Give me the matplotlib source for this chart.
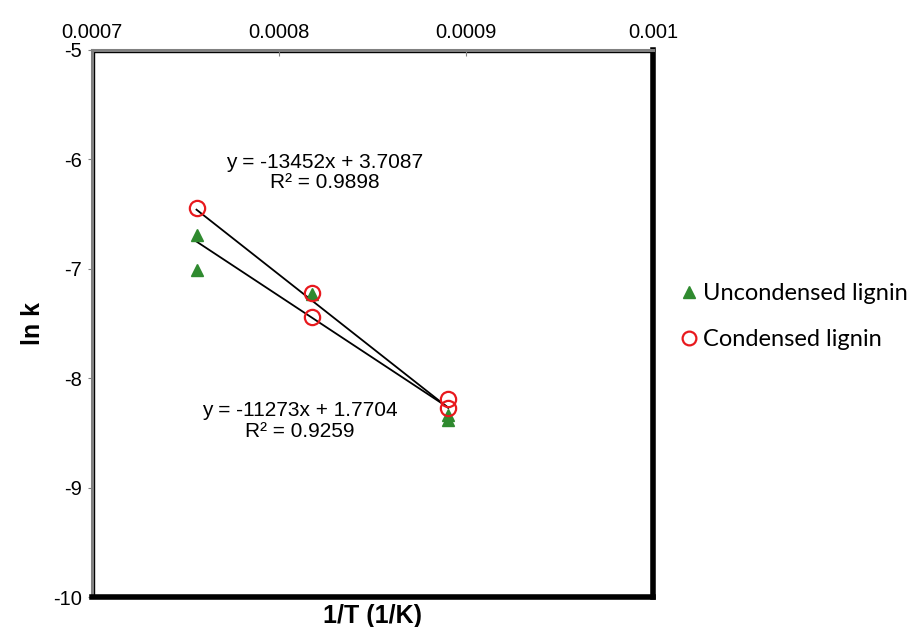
import numpy as np
import matplotlib.pyplot as plt
from matplotlib.patches import Rectangle

# 1/T values for 1050, 950, 850 C
inv_T_uncond = [0.0007559, 0.0007559, 0.0008177, 0.0008905, 0.0008905]
lnk_uncond = [-6.69, -7.01, -7.23, -8.34, -8.38]

inv_T_cond = [0.0007559, 0.0008177, 0.0008177, 0.0008905, 0.0008905]
lnk_cond = [-6.44, -7.22, -7.44, -8.19, -8.27]

# trendline coefficients as printed on the chart
fit1 = (-13452, 3.7087, 0.9898)
fit2 = (-11273, 1.7704, 0.9259)

xticks = [0.0007, 0.0008, 0.0009, 0.001]
xtick_labels = ['0.0007', '0.0008', '0.0009', '0.001']
yticks = [-5, -6, -7, -8, -9, -10]

plt.rcParams['font.family'] = ['Liberation Sans', 'DejaVu Sans']
plt.rcParams['axes.unicode_minus'] = False

fig = plt.figure(figsize=(9.18, 6.27), dpi=100)
ax = fig.add_axes([0.1002, 0.0478, 0.6111, 0.8725])

xl = np.array([min(inv_T_cond), max(inv_T_cond)])
for m, b, r2 in (fit1, fit2):
    ax.plot(xl, m * xl + b, color='black', lw=1.3, zorder=2)

ax.plot(inv_T_uncond, lnk_uncond, '^', color='#2f8a2f', ms=9, ls='none',
        label='Uncondensed lignin', zorder=3)
ax.plot(inv_T_cond, lnk_cond, 'o', mfc='none', mec='#e8191e', mew=1.6, ms=11,
        ls='none', label='Condensed lignin', zorder=4)

ax.text(0.0008246, -6.12, 'y = %d' % fit1[0] + 'x + %.4f\nR² = %.4f' % (fit1[1], fit1[2]),
        ha='center', va='center', fontsize=15, linespacing=1.1)
ax.text(0.0008112, -8.39, 'y = %d' % fit2[0] + 'x + %.4f\nR² = %.4f' % (fit2[1], fit2[2]),
        ha='center', va='center', fontsize=15, linespacing=1.1)

ax.set_xlim(0.0007, 0.001)
ax.set_ylim(-10, -5)
ax.xaxis.tick_top()
ax.set_xticks(xticks)
ax.set_xticklabels(xtick_labels)
ax.set_yticks(yticks)
ax.tick_params(axis='x', direction='in', length=4, color='#808080', labelsize=14.5, pad=6)
ax.tick_params(axis='y', direction='out', length=3, color='#808080', labelsize=14.5, pad=4)

ax.set_xlabel('1/T (1/K)', fontsize=18, fontweight='bold', labelpad=5)
ax.xaxis.set_label_position('bottom')
ax.set_ylabel('ln k', fontsize=18, fontweight='bold', labelpad=6)

for s in ('left', 'top'):
    ax.spines[s].set_color('#808080')
    ax.spines[s].set_linewidth(2.2)
for s in ('right', 'bottom'):
    ax.spines[s].set_color('black')
    ax.spines[s].set_linewidth(4)
ax.add_patch(Rectangle((0.004, 0), 0.996, 0.996, transform=ax.transAxes, fill=False,
                       ec='black', lw=1, zorder=1, clip_on=False))

leg = fig.legend(loc='center left', bbox_to_anchor=(0.714, 0.495), frameon=False,
                 prop={'family': 'Lato', 'size': 17}, handletextpad=0.1,
                 handlelength=1.0, labelspacing=1.05, markerscale=0.9)

fig.savefig('out.png', dpi=100)
